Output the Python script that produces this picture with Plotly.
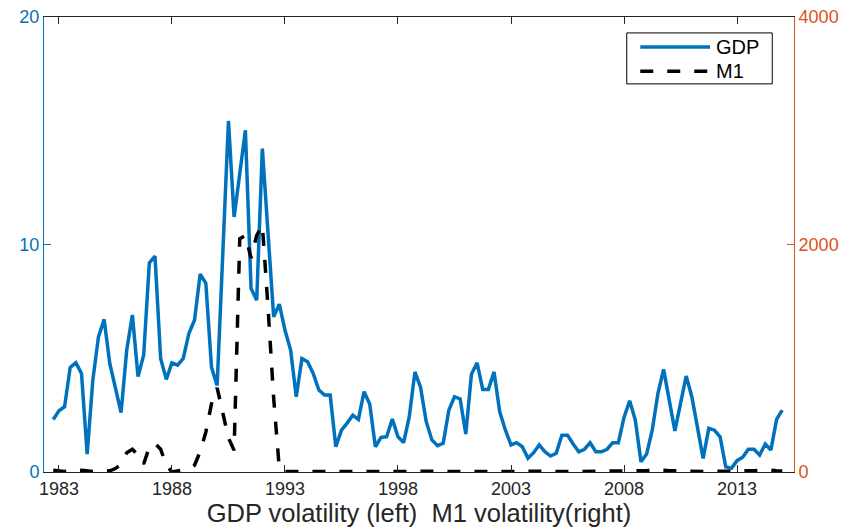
import plotly.graph_objects as go

# Quarterly observations, first quarter = 1982 Q4
start_year = 1982.75
step = 0.25

gdp_vol = [
    2.31, 2.69, 2.87, 4.60, 4.80, 4.33, 0.79, 4.04, 5.94, 6.71,
    4.77, 3.75, 2.61, 5.36, 6.90, 4.19, 5.14, 9.19, 9.49, 4.99,
    4.07, 4.80, 4.70, 4.99, 6.09, 6.68, 8.70, 8.29, 4.60, 3.80,
    10.0, 15.43, 11.21, 13.1, 15.02, 8.07, 7.55, 14.22, 10.6, 6.82,
    7.38, 6.24, 5.36, 3.31, 4.99, 4.85, 4.33, 3.60, 3.38, 3.38,
    1.11, 1.84, 2.15, 2.50, 2.31, 3.53, 2.99, 1.11, 1.52, 1.55,
    2.33, 1.55, 1.29, 2.43, 4.40, 3.72, 2.21, 1.41, 1.16, 1.26,
    2.72, 3.31, 3.21, 1.67, 4.30, 4.80, 3.63, 3.63, 4.40, 2.65,
    1.85, 1.19, 1.29, 1.11, 0.60, 0.85, 1.19, 0.89, 0.70, 0.82,
    1.62, 1.62, 1.23, 0.89, 1.00, 1.29, 0.89, 0.89, 1.00, 1.29,
    1.29, 2.40, 3.13, 2.28, 0.45, 0.79, 1.85, 3.45, 4.51, 3.16,
    1.81, 3.02, 4.22, 3.31, 1.99, 0.60, 1.92, 1.84, 1.55, 0.23,
    0.16, 0.50, 0.65, 1.00, 1.00, 0.75, 1.23, 0.97, 2.31, 2.72,
]

m1_vol = [
    15, 10, 5, 8, 20, 15, 8, 5, 3, 5,
    10, 30, 70, 170, 200, 150, 70, 220, 250, 200,
    60, 0, 10, 15, 30, 60, 180, 350, 600, 740,
    520, 300, 190, 2050, 2080, 1880, 2080, 2170, 1450, 650,
    30, 5, 5, 4, 4, 5, 6, 5, 4, 5,
    5, 4, 5, 6, 5, 4, 5, 5, 4, 5,
    6, 5, 4, 5, 5, 4, 5, 6, 5, 4,
    5, 5, 6, 5, 4, 5, 5, 4, 5, 6,
    5, 4, 5, 5, 6, 5, 4, 5, 5, 6,
    5, 4, 5, 5, 6, 5, 4, 5, 6, 5,
    5, 6, 8, 10, 8, 12, 18, 20, 15, 12,
    10, 8, 6, 5, 6, 5, 6, 5, 6, 8,
    6, 8, 10, 8, 10, 15, 18, 15, 10, 8,
]

years = [start_year + step * i for i in range(len(gdp_vol))]

x_ticks = [1983, 1988, 1993, 1998, 2003, 2008, 2013]
left_ticks = [0, 10, 20]
right_ticks = [0, 2000, 4000]

BLUE = "#0072BD"
ORANGE = "#D95319"
FONT = "Liberation Sans"
LINE_W = 3.5
DASH = "13px,14px"

fig = go.Figure()
fig.add_trace(go.Scatter(
    x=years, y=gdp_vol, name="GDP", mode="lines",
    line=dict(color=BLUE, width=LINE_W),
    yaxis="y",
))
fig.add_trace(go.Scatter(
    x=years, y=m1_vol, name="M1", mode="lines",
    line=dict(color="black", width=LINE_W, dash=DASH),
    yaxis="y2",
))

# Compact boxed legend in the upper-right corner of the axes
box = dict(x0=0.777, x1=0.971, y0=0.853, y1=0.965)
entries = [("GDP", BLUE, "solid", 0.934), ("M1", "black", DASH, 0.881)]
shapes = [dict(type="rect", xref="paper", yref="paper", **box,
               line=dict(color="black", width=1), fillcolor="white", layer="above")]
annotations = []
for label, color, dash, ypos in entries:
    shapes.append(dict(type="line", xref="paper", yref="paper",
                       x0=0.795, x1=0.888, y0=ypos, y1=ypos, layer="above",
                       line=dict(color=color, width=LINE_W, dash=dash)))
    annotations.append(dict(xref="paper", yref="paper", x=0.893, y=ypos,
                            xanchor="left", yanchor="middle", showarrow=False,
                            text=label, font=dict(family=FONT, size=20, color="black")))

fig.update_layout(
    width=852, height=529,
    margin=dict(l=44, r=58, t=17, b=57),
    paper_bgcolor="white", plot_bgcolor="white",
    font=dict(family=FONT, size=18, color="#262626"),
    showlegend=False,
    shapes=shapes,
    annotations=annotations,
    xaxis=dict(
        range=[1982.34, 2015.52],
        automargin=False,
        tickmode="array", tickvals=x_ticks,
        ticktext=[str(t) for t in x_ticks],
        ticks="inside", ticklen=7, tickcolor="#262626", tickwidth=1,
        showline=True, linecolor="#262626", linewidth=1, mirror="ticks",
        showgrid=False, zeroline=False,
        tickfont=dict(family=FONT, size=18, color="#262626"),
        title=dict(text="GDP volatility (left)  M1 volatility(right)",
                   font=dict(family=FONT, size=25.5, color="#262626"),
                   standoff=3),
    ),
    yaxis=dict(
        range=[0, 20],
        automargin=False,
        tickmode="array", tickvals=left_ticks,
        ticks="inside", ticklen=7, tickcolor=BLUE, tickwidth=1,
        showline=True, linecolor=BLUE, linewidth=1,
        showgrid=False, zeroline=False,
        tickfont=dict(family=FONT, size=18, color=BLUE),
    ),
    yaxis2=dict(
        range=[0, 4000], overlaying="y", side="right",
        automargin=False,
        tickmode="array", tickvals=right_ticks,
        ticks="inside", ticklen=7, tickcolor=ORANGE, tickwidth=1,
        showline=True, linecolor=ORANGE, linewidth=1,
        showgrid=False, zeroline=False,
        tickfont=dict(family=FONT, size=18, color=ORANGE),
    ),
)

fig.write_html("out.html")
